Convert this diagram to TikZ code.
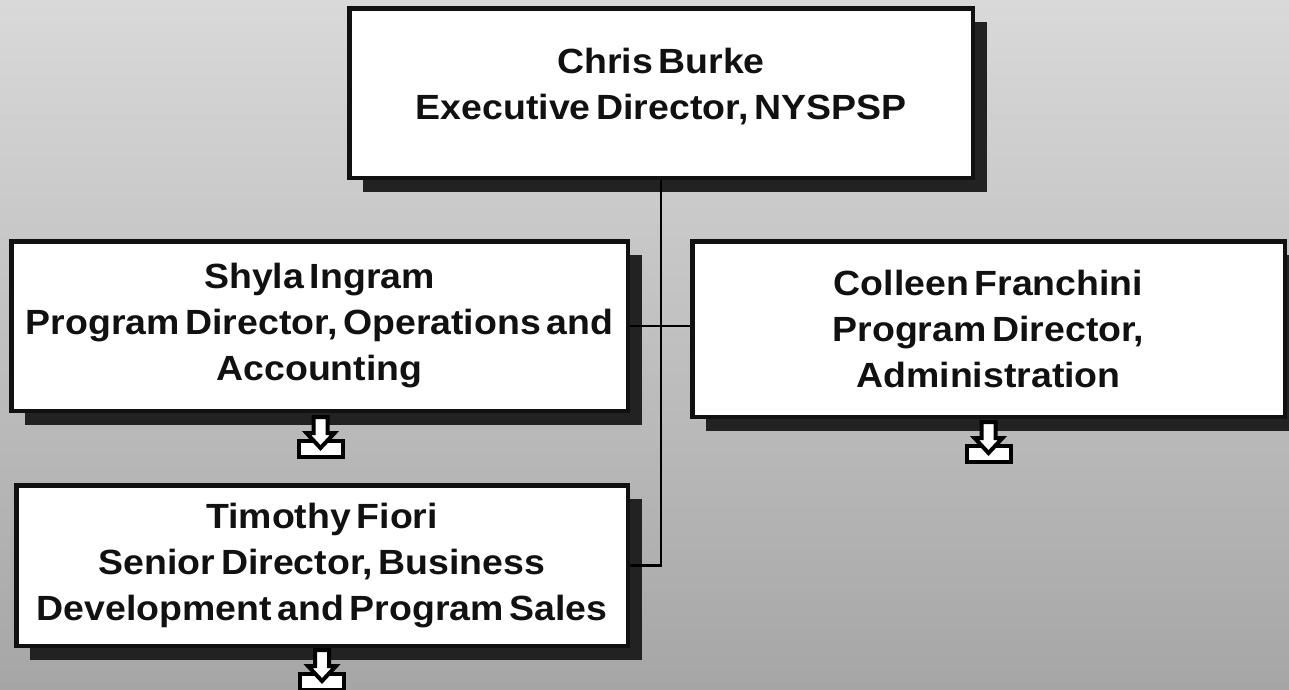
\documentclass[tikz,border=0pt]{standalone}
\usepackage{fontspec}
\newfontfamily\boxfont[FakeStretch=1.07,WordSpace=0.55]{Liberation Sans}
\usetikzlibrary{shadows,calc}
\definecolor{bgtop}{HTML}{D9D9D9}
\definecolor{bgbot}{HTML}{A6A6A6}
\definecolor{shadowc}{HTML}{222222}
\definecolor{edgec}{HTML}{111111}
\tikzset{
  boxtext/.style={align=center, inner sep=0pt, text=edgec,
    font=\boxfont\bfseries\fontsize{35}{46}\selectfont},
  orgbox/.style={boxtext, draw=edgec, line width=4.5pt, fill=white, rectangle,
    drop shadow={shadow xshift=14pt, shadow yshift=-14pt, opacity=1, fill=shadowc}},
  link/.style={draw=black, line width=2.5pt},
  expand/.pic={
    \draw[draw=black, fill=white, line width=4pt] (-22,2) rectangle (22,18);
    \draw[draw=black, fill=white, line width=4pt, line join=miter]
      (-7,-22) -- (7,-22) -- (7,-6) -- (14,-6) -- (0,9) -- (-14,-6) -- (-7,-6) -- cycle;
  }
}
\begin{document}
\begin{tikzpicture}[x=1pt,y=-1pt]
\shade[top color=bgtop, bottom color=bgbot] (0,0) rectangle (1289,689);
\useasboundingbox (0,0) rectangle (1289,689);

\node[orgbox, minimum width=623.5pt, minimum height=169.5pt] (top) at (661,93) {};
\node[boxtext] (toptext) at ($(top.center)+(0,-6)$)
  {Chris Burke\\Executive Director, NYSPSP};
\node[orgbox, minimum width=616.5pt, minimum height=169.5pt] (shyla) at (319.5,326)
  {Shyla Ingram\\Program Director, Operations and\\Accounting};
\node[orgbox, minimum width=592.5pt, minimum height=175.5pt] (colleen) at (988.5,329)
  {Colleen Franchini\\Program Director,\\Administration};
\node[orgbox, minimum width=611.5pt, minimum height=160.5pt] (tim) at (322,565.5)
  {Timothy Fiori\\Senior Director, Business\\Development and Program Sales};

\draw[link] (top.south) -- (top.south |- tim.east) -- (tim.east);
\draw[link] (shyla.east) -- (shyla.east -| colleen.west);

\pic at ($(shyla.south)+(1,26)$) {expand};
\pic at ($(colleen.south)+(0,25)$) {expand};
\pic at ($(tim.south)+(0,24)$) {expand};
\end{tikzpicture}
\end{document}
